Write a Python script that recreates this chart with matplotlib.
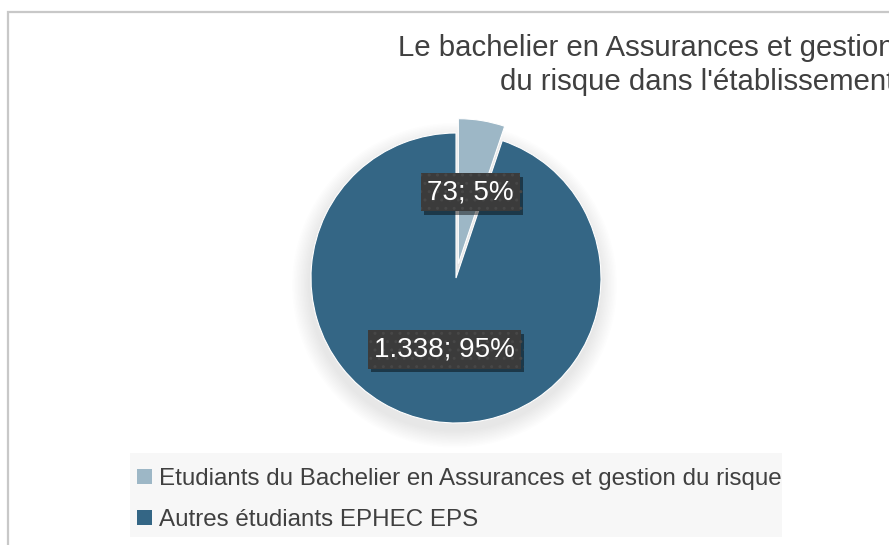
import matplotlib
matplotlib.use("Agg")
import matplotlib.pyplot as plt
from matplotlib.patches import Rectangle, Circle
import matplotlib.patheffects as pe

# ---- data ----
categories = ["Etudiants du Bachelier en Assurances et gestion du risque",
              "Autres étudiants EPHEC EPS"]
values = [73, 1338]
colors = ["#9db7c6", "#346685"]
title = "Le bachelier en Assurances et gestion\ndu risque dans l'établissement"

plt.rcParams['font.family'] = ['Liberation Sans', 'DejaVu Sans']

W, H = 889, 545
fig = plt.figure(figsize=(W / 100, H / 100), dpi=100)
fig.patch.set_facecolor("white")

# outer chart frame (cropped at right / bottom)
fig.patches.append(Rectangle((8 / W, -0.2), 1.2, 1 - 12 / H + 0.2,
                             transform=fig.transFigure, fill=False,
                             edgecolor="#c8c8c8", lw=1.6, zorder=0))
# legend background band
fig.patches.append(Rectangle((130 / W, 1 - 537 / H), (782 - 130) / W, (537 - 453) / H,
                             transform=fig.transFigure, facecolor="#f7f7f7",
                             edgecolor="none", zorder=0))

# pie axes: centre (456, 278) px, radius 145 px
R = 145
span = 1.25
side = 2 * span * R
cx, cy = 456, H - 278
ax = fig.add_axes([(cx - side / 2) / W, (cy - side / 2) / H, side / W, side / H])
ax.set_xlim(-span, span)
ax.set_ylim(-span, span)
ax.set_aspect("equal")
ax.axis("off")

# soft shadow behind the pie
for i in range(12):
    r = 1.0 + 0.01 * (i + 1)
    ax.add_patch(Circle((-0.01, -0.05), r, facecolor="black", alpha=0.006,
                        edgecolor="none", zorder=0))

total = sum(values)
wedges, texts, autotexts = ax.pie(
    values, colors=colors, startangle=90, counterclock=False,
    explode=[0.1, 0], radius=1, autopct="%1.0f%%", pctdistance=0.5,
    wedgeprops=dict(edgecolor="white", linewidth=0.8),
    textprops=dict(color="white", fontsize=20))
for w in wedges:
    w.set_zorder(2)

for t, v in zip(autotexts, values):
    pct = round(100 * v / total)
    t.set_text(f"{v:,}".replace(",", ".") + f"; {pct}%")
    t.set_zorder(5)
    t.set_bbox(dict(boxstyle="square,pad=0.22", facecolor="#3b3b3b",
                    edgecolor="#474747", hatch="..", linewidth=0))
    t.get_bbox_patch().set_path_effects(
        [pe.SimplePatchShadow(offset=(2.5, -2.5), shadow_rgbFace="black", alpha=0.45),
         pe.Normal()])

# title (right part cropped by the figure edge, as in the reference)
fig.text(1 + 5 / W, 1 - 65 / H, title, ha="right", va="center",
         multialignment="right", fontsize=21.2, color="#404040", linespacing=1.27)

# legend
leg = fig.legend(wedges, categories, loc="upper left",
                 bbox_to_anchor=(137 / W, 1 - 468 / H),
                 frameon=False, fontsize=17.4, handlelength=0.6, handleheight=0.6,
                 handletextpad=0.3, labelspacing=0.8, borderpad=0,
                 borderaxespad=0)
for txt in leg.get_texts():
    txt.set_color("#404040")
for h in leg.legend_handles:
    h.set_edgecolor("none")

fig.savefig("out.png", dpi=100)
